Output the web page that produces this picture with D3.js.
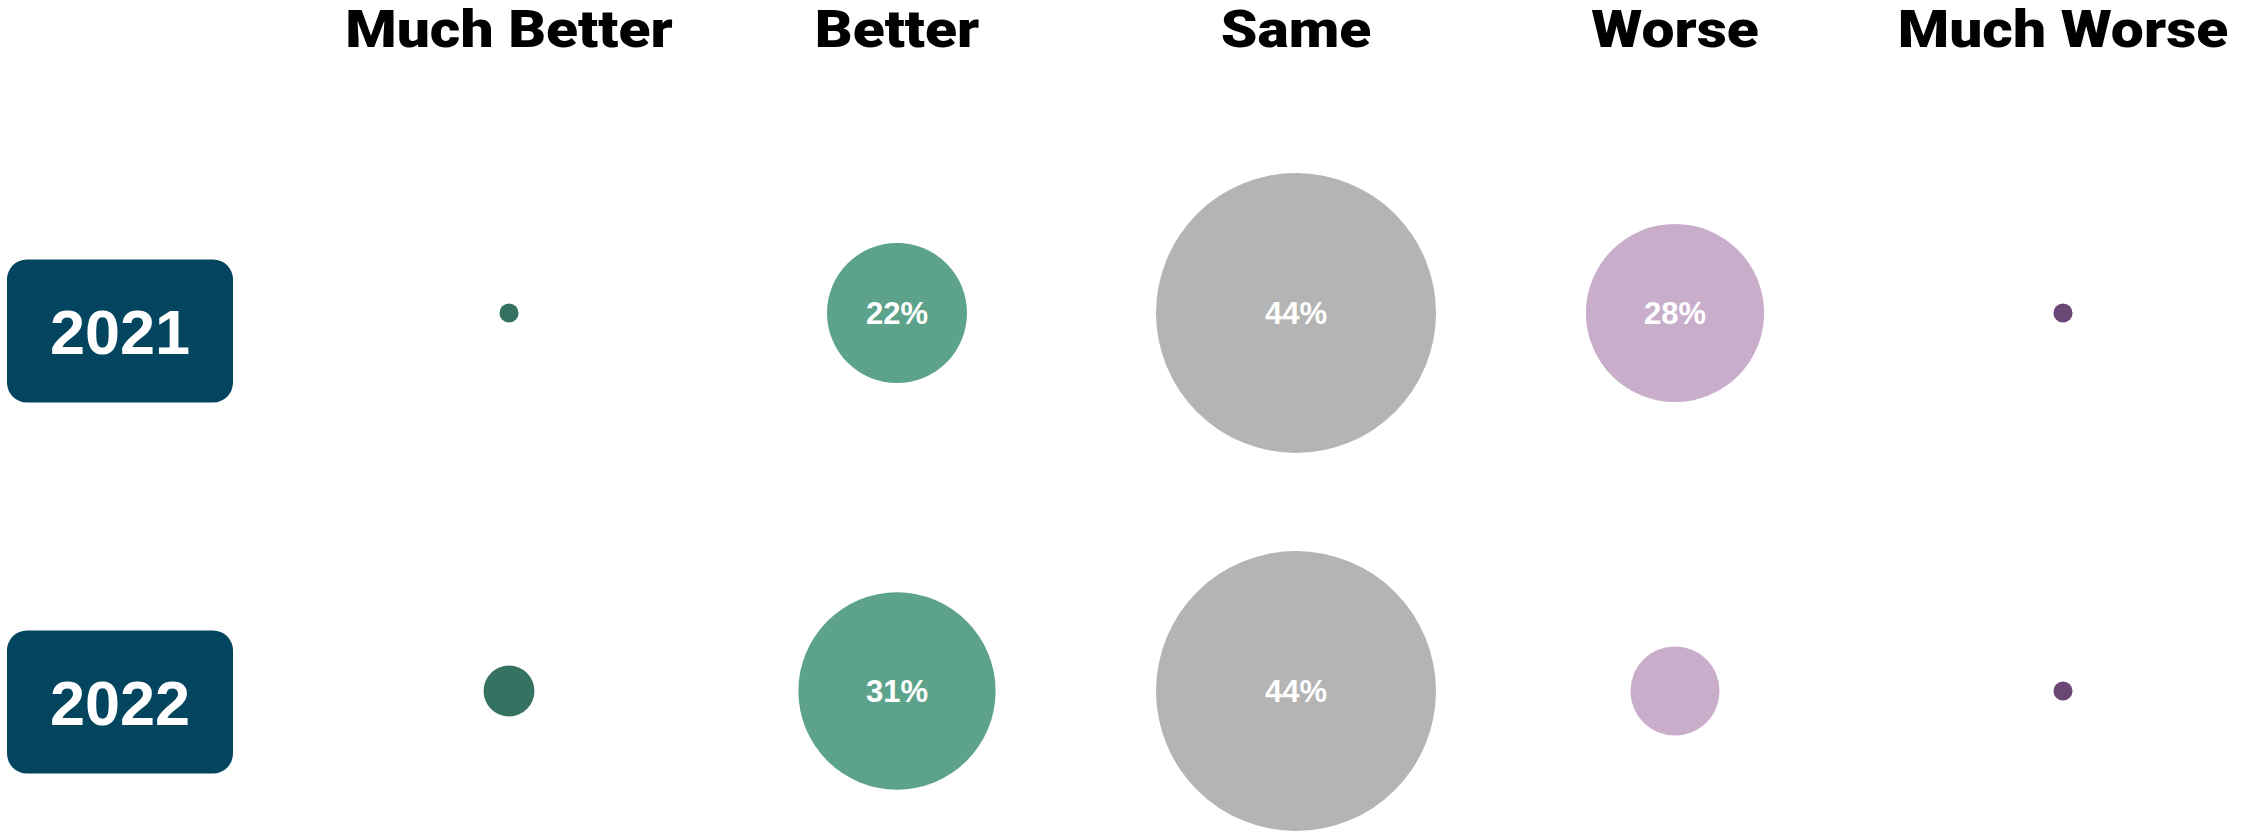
<!DOCTYPE html>
<html>
<head>
<meta charset="utf-8">
<script src="https://cdn.jsdelivr.net/npm/d3@7"></script>
<style>
  html, body { margin: 0; padding: 0; background: #ffffff; }
  svg { display: block; }
</style>
</head>
<body>
<svg id="chart" width="2251" height="831"></svg>
<script>
// Survey responses by year, percent of respondents
const categories = ["Much Better", "Better", "Same", "Worse", "Much Worse"];
const years = ["2021", "2022"];
const values2021 = [3, 22, 44, 28, 3];
const values2022 = [8, 31, 44, 14, 3];
const colors = ["#367261", "#5da38b", "#b3b4b3", "#c9aecb", "#6b4775"];
const labelMin = 20; // only bubbles this large carry a value label

const seriesByYear = { "2021": values2021, "2022": values2022 };

const svg = d3.select("#chart");

// column centres of the layout grid
const x = d3.scaleOrdinal().domain(categories).range([509, 897, 1296, 1675, 2063]);
const y = d3.scalePoint().domain(years).range([313, 691]);
const yTag = d3.scalePoint().domain(years).range([331, 702]);
const r = d3.scaleLinear().domain([0, 44]).range([0, 140]);
const color = d3.scaleOrdinal().domain(categories).range(colors);

// column headers (heavy face, widened horizontally)
svg.append("g")
  .selectAll("text")
  .data(categories)
  .join("text")
  .attr("transform", d => `translate(${x(d)},47) scale(1.13,1)`)
  .attr("text-anchor", "middle")
  .attr("font-family", "Roboto, 'Liberation Sans', sans-serif")
  .attr("font-weight", 900)
  .attr("font-size", 52)
  .attr("fill", "#000")
  .text(d => d);

// year tags
const tags = svg.append("g")
  .selectAll("g")
  .data(years)
  .join("g")
  .attr("transform", d => `translate(120,${yTag(d)})`);

tags.append("rect")
  .attr("x", -113)
  .attr("y", -71.5)
  .attr("width", 226)
  .attr("height", 143)
  .attr("rx", 20)
  .attr("fill", "#03445f");

tags.append("text")
  .attr("text-anchor", "middle")
  .attr("dy", "0.36em")
  .attr("font-family", "'Liberation Sans', Arial, sans-serif")
  .attr("font-weight", 700)
  .attr("font-size", 63)
  .attr("fill", "#ffffff")
  .text(d => d);

// bubbles
const cells = years.flatMap(yr => categories.map((c, i) => ({
  year: yr, category: c, value: seriesByYear[yr][i]
})));

const bubbles = svg.append("g")
  .selectAll("g")
  .data(cells)
  .join("g")
  .attr("transform", d => `translate(${x(d.category)},${y(d.year)})`);

bubbles.append("circle")
  .attr("r", d => r(d.value))
  .attr("fill", d => color(d.category));

bubbles.filter(d => d.value >= labelMin)
  .append("text")
  .attr("text-anchor", "middle")
  .attr("dy", "0.36em")
  .attr("font-family", "'Liberation Sans', Arial, sans-serif")
  .attr("font-weight", 700)
  .attr("font-size", 31)
  .attr("fill", "#ffffff")
  .text(d => d.value + "%");
</script>
</body>
</html>
